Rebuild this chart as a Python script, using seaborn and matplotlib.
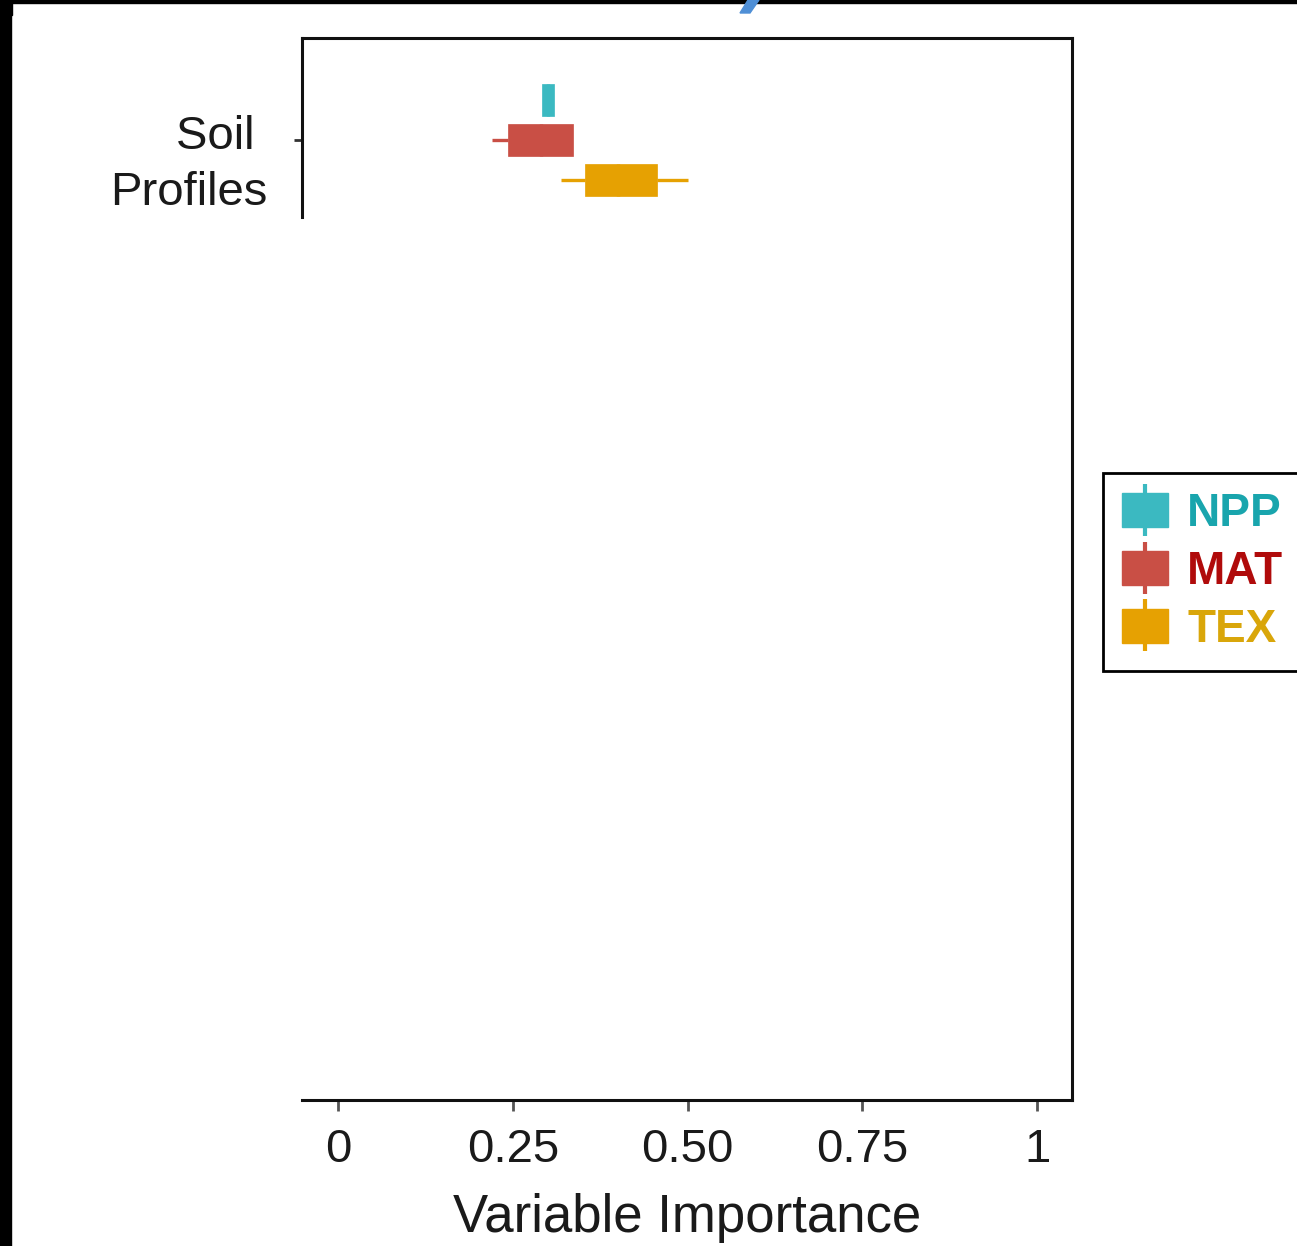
import numpy as np
import pandas as pd
import matplotlib.pyplot as plt
import matplotlib.patches as mpatches
from matplotlib.lines import Line2D
from matplotlib.legend_handler import HandlerTuple
from matplotlib.transforms import ScaledTranslation
import seaborn as sns

# five summary points per predictor: low whisker, Q1, median, Q3, high whisker
VARIABLES = ["NPP", "MAT", "TEX"]
NPP_IMPORTANCE = [0.292, 0.292, 0.300, 0.309, 0.309]
MAT_IMPORTANCE = [0.220, 0.243, 0.290, 0.336, 0.336]
TEX_IMPORTANCE = [0.318, 0.353, 0.400, 0.456, 0.501]
DATASET = "Soil \nProfiles"
X_TICKS = [0, 0.25, 0.50, 0.75, 1]
X_TICK_LABELS = ["0", "0.25", "0.50", "0.75", "1"]

BOX_COLORS = ["#3bb9c1", "#c94f45", "#e6a102"]
TEXT_COLORS = ["#19a5ad", "#b00b0b", "#d9a60a"]

W, H = 1297, 1246

sns.set_style("white")
plt.rcParams["font.family"] = ["Liberation Sans", "DejaVu Sans"]

rows = []
for var, vals in zip(VARIABLES, [NPP_IMPORTANCE, MAT_IMPORTANCE, TEX_IMPORTANCE]):
    for v in vals:
        rows.append({"dataset": DATASET, "variable": var, "importance": v})
df = pd.DataFrame(rows)

fig = plt.figure(figsize=(W / 100, H / 100), dpi=100)
ax = fig.add_axes([302 / W, 1 - 1100 / H, (1072 - 302) / W, (1100 - 38) / H])

sns.boxplot(data=df, x="importance", y="dataset", hue="variable",
            hue_order=VARIABLES, palette=BOX_COLORS, orient="h",
            width=0.8, gap=0.2, showcaps=False, showfliers=False,
            linewidth=2.4, legend=False, ax=ax)

# ggplot-like look: outline, whiskers and median in the fill colour
for cont, c in zip(ax.containers, BOX_COLORS):
    for b in list(cont.boxes):
        b.set_facecolor(c)
        b.set_edgecolor(c)
        b.set_linewidth(0.5)
    for ln in list(cont.whiskers) + list(cont.medians):
        ln.set_color(c)
        ln.set_linewidth(2.4)

ax.set_xlim(-0.052, 1.05)
ax.set_ylim(6.40, -0.68)
ax.set_xticks(X_TICKS)
ax.set_xticklabels(X_TICK_LABELS, fontsize=34, color="#1a1a1a")
ax.set_yticks([0])
ax.set_yticklabels([DATASET], fontsize=34, color="#1a1a1a",
                   multialignment="right", linespacing=1.35)
ax.set_xlabel("Variable Importance", fontsize=38, color="#1a1a1a", labelpad=15)
ax.set_ylabel("")
ax.tick_params(axis="x", bottom=True, length=8, width=2, pad=12, color="#555555")
ax.tick_params(axis="y", left=True, length=6, width=2, pad=19, color="#333333")
for lab in ax.get_yticklabels():
    lab.set_transform(lab.get_transform() + ScaledTranslation(0, -0.14, fig.dpi_scale_trans))

for s in ax.spines.values():
    s.set_visible(True)
    s.set_color("#111111")
    s.set_linewidth(2.2)
ax.spines["left"].set_bounds(-0.68, 0.513)

handles = [(Line2D([], [], color=c, marker="|", markersize=38, markeredgewidth=3,
                   linestyle="None"),
            mpatches.Patch(facecolor=c, edgecolor=c)) for c in BOX_COLORS]
leg = fig.legend(handles, VARIABLES,
                 handler_map={tuple: HandlerTuple(ndivide=1, pad=0)},
                 loc="upper left", bbox_to_anchor=(1103 / W, 1 - 473 / H),
                 borderaxespad=0, prop={"weight": "bold", "size": 33},
                 handlelength=1.0, handleheight=0.75, handletextpad=0.42,
                 labelspacing=0.30, borderpad=0.42, frameon=True, fancybox=False,
                 edgecolor="black", framealpha=1)
leg.get_frame().set_linewidth(2)
for t, c in zip(leg.get_texts(), TEXT_COLORS):
    t.set_color(c)

# screenshot edges
fig.patches.append(mpatches.Rectangle((0, 0), 11 / W, 1, transform=fig.transFigure,
                                      color="black", zorder=10))
fig.patches.append(mpatches.Rectangle((0, 1 - 3 / H), 1, 3 / H, transform=fig.transFigure,
                                      color="black", zorder=10))
fig.patches.append(mpatches.Rectangle((0, 1 - 15 / H), 12 / W, 15 / H,
                                      transform=fig.transFigure, color="black", zorder=10))
streak = [(748, 0), (759, 0), (750, 13), (740, 13)]
fig.patches.append(mpatches.Polygon([(x / W, 1 - y / H) for x, y in streak],
                                    transform=fig.transFigure, color="#4f8fd6", zorder=11))

fig.savefig("out.png", dpi=100)
